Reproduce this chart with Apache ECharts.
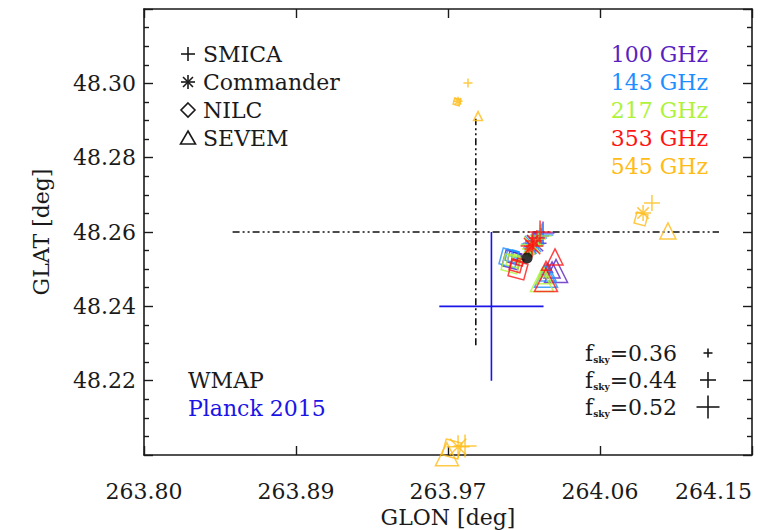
<!DOCTYPE html>
<html>
<head>
<meta charset="utf-8">
<script src="https://cdn.jsdelivr.net/npm/echarts@6/dist/echarts.min.js"></script>
<style>
  html, body { margin: 0; padding: 0; background: #ffffff; }
  #chart { width: 769px; height: 530px; }
</style>
</head>
<body>
<div id="chart"></div>
<script>
// ---- axis ticks ----
const glonTicks = [263.80, 263.8875, 263.975, 264.0625, 264.15];
const glonTickLabels = ['263.80', '263.89', '263.97', '264.06', '264.15'];

// ---- frequency channels and component-separation methods ----
const frequencies = ['100 GHz', '143 GHz', '217 GHz', '353 GHz', '545 GHz'];
const freqColors = ['#5a1fc0', '#1e8fff', '#aef23a', '#ff1414', '#ffbb16'];
const methods = ['SMICA', 'Commander', 'NILC', 'SEVEM'];
const fskyValues = [0.36, 0.44, 0.52];

// ---- fitted positions [GLON, GLAT] for fsky = 0.36, 0.44, 0.52 ----
const smica100 = [[264.0268, 48.2578], [264.0285, 48.2589], [264.0297, 48.2597]];
const smica143 = [[264.0257, 48.2573], [264.0274, 48.2584], [264.0291, 48.2592]];
const smica217 = [[264.0251, 48.2570], [264.0268, 48.2581], [264.0280, 48.2589]];
const smica353 = [[264.0239, 48.2565], [264.0262, 48.2584], [264.0280, 48.2600]];
const smica545 = [[263.9865, 48.3001], [264.0924, 48.2678], [263.9848, 48.2024]];

const commander100 = [[264.0222, 48.2552], [264.0234, 48.2562], [264.0251, 48.2570]];
const commander143 = [[264.0216, 48.2549], [264.0228, 48.2557], [264.0239, 48.2568]];
const commander217 = [[264.0211, 48.2546], [264.0222, 48.2554], [264.0234, 48.2565]];
const commander353 = [[264.0216, 48.2554], [264.0239, 48.2576], [264.0234, 48.2562]];
const commander545 = [[263.9808, 48.2952], [264.0873, 48.2651], [263.9808, 48.2022]];

const nilc100 = [[264.0141, 48.2535], [264.0130, 48.2530], [264.0118, 48.2525]];
const nilc143 = [[264.0136, 48.2541], [264.0118, 48.2535], [264.0101, 48.2530]];
const nilc217 = [[264.0141, 48.2530], [264.0124, 48.2522], [264.0113, 48.2514]];
const nilc353 = [[264.0165, 48.2519], [264.0141, 48.2509], [264.0153, 48.2498]];
const nilc545 = [[263.9802, 48.2950], [264.0861, 48.2635], [263.9773, 48.2016]];

const sevem100 = [[264.0326, 48.2503], [264.0349, 48.2498], [264.0372, 48.2495]];
const sevem143 = [[264.0308, 48.2498], [264.0326, 48.2490], [264.0314, 48.2482]];
const sevem217 = [[264.0297, 48.2492], [264.0303, 48.2482], [264.0291, 48.2471]];
const sevem353 = [[264.0314, 48.2509], [264.0366, 48.2533], [264.0314, 48.2471]];
const sevem545 = [[263.9923, 48.2912], [264.1016, 48.2603], [263.9744, 48.2002]];

// reference position of the cluster
const clusterPos = [264.0205, 48.2530];

// external catalogue positions: [GLON, GLAT, errGLON, errGLAT]
const wmapPos = [263.991, 48.260, 0.140, 0.0305];
const planckPos = [264.000, 48.240, 0.030, 0.020];

const methodData = {
  SMICA: [smica100, smica143, smica217, smica353, smica545],
  Commander: [commander100, commander143, commander217, commander353, commander545],
  NILC: [nilc100, nilc143, nilc217, nilc353, nilc545],
  SEVEM: [sevem100, sevem143, sevem217, sevem353, sevem545]
};

// ---- marker styling ----
const PLUS = 'path://M0,-10L0,10M-10,0L10,0';
const STAR = 'path://M0,-10L0,10M-10,0L10,0M-7.1,-7.1L7.1,7.1M-7.1,7.1L7.1,-7.1';
const methodSymbol = { SMICA: PLUS, Commander: STAR, NILC: 'diamond', SEVEM: 'triangle' };
const methodRotate = { SMICA: 0, Commander: 0, NILC: 30, SEVEM: 0 };
const fskySizes = [9, 16, 23];

const FONT = 'DejaVu Serif';
const INK = '#1a1a1a';

const series = [];

// error crosses for WMAP (dash-dot) and Planck 2015 (solid blue)
function errorCross(p, style) {
  series.push({
    type: 'line', data: [[p[0] - p[2], p[1]], [p[0] + p[2], p[1]]],
    symbol: 'none', lineStyle: style, silent: true, z: 1
  });
  series.push({
    type: 'line', data: [[p[0], p[1] - p[3]], [p[0], p[1] + p[3]]],
    symbol: 'none', lineStyle: style, silent: true, z: 1
  });
}
errorCross(wmapPos, { color: '#111', width: 1.6, type: [7, 3, 2, 3, 2, 3] });
errorCross(planckPos, { color: '#1a14e6', width: 1.6, type: 'solid' });

frequencies.forEach((f, fi) => {
  methods.forEach((m) => {
    series.push({
      name: m + ' ' + f,
      type: 'scatter',
      data: methodData[m][fi],
      symbol: methodSymbol[m],
      symbolRotate: methodRotate[m],
      symbolSize: (val, params) => fskySizes[params.dataIndex],
      itemStyle: { color: 'rgba(0,0,0,0)', borderColor: freqColors[fi], borderWidth: 1.5 },
      emphasis: { disabled: true },
      z: 3 + fi
    });
  });
});

series.push({
  type: 'scatter', data: [clusterPos], symbol: 'circle', symbolSize: 11,
  itemStyle: { color: '#000' }, emphasis: { disabled: true }, z: 10
});

// ---- legend graphics ----
function plusShape(cx, cy, s) {
  const h = s / 2;
  return [
    { type: 'line', shape: { x1: cx - h, y1: cy, x2: cx + h, y2: cy }, style: { stroke: INK, lineWidth: 1.6 } },
    { type: 'line', shape: { x1: cx, y1: cy - h, x2: cx, y2: cy + h }, style: { stroke: INK, lineWidth: 1.6 } }
  ];
}
function starShape(cx, cy, s) {
  const h = s / 2, d = h * 0.71;
  return plusShape(cx, cy, s).concat([
    { type: 'line', shape: { x1: cx - d, y1: cy - d, x2: cx + d, y2: cy + d }, style: { stroke: INK, lineWidth: 1.6 } },
    { type: 'line', shape: { x1: cx - d, y1: cy + d, x2: cx + d, y2: cy - d }, style: { stroke: INK, lineWidth: 1.6 } }
  ]);
}
const legendRows = [54, 82, 110, 138];
const symX = 188;
const graphics = [];
graphics.push(...plusShape(symX, legendRows[0], 14));
graphics.push(...starShape(symX, legendRows[1], 14));
graphics.push({ type: 'polygon', shape: { points: [[symX, legendRows[2] - 7], [symX + 7, legendRows[2]], [symX, legendRows[2] + 7], [symX - 7, legendRows[2]]] }, style: { fill: 'none', stroke: INK, lineWidth: 1.6 } });
graphics.push({ type: 'polygon', shape: { points: [[symX, legendRows[3] - 7], [symX + 7.5, legendRows[3] + 6], [symX - 7.5, legendRows[3] + 6]] }, style: { fill: 'none', stroke: INK, lineWidth: 1.6 } });
methods.forEach((m, i) => {
  graphics.push({ type: 'text', x: 203, y: legendRows[i], style: { text: m, font: '22px "' + FONT + '"', fill: INK, verticalAlign: 'middle', align: 'left' } });
});
frequencies.forEach((f, i) => {
  graphics.push({ type: 'text', x: 708, y: 54 + 28 * i, style: { text: f, font: '22px "' + FONT + '"', fill: freqColors[i], verticalAlign: 'middle', align: 'right' } });
});

// fsky size key
const fskyRows = [353, 380, 407];
fskyValues.forEach((v, i) => {
  graphics.push({
    type: 'text', x: 585, y: fskyRows[i],
    style: {
      text: '{f|f}{s|sky}{n|=' + v.toFixed(2) + '}',
      verticalAlign: 'middle', align: 'left',
      rich: {
        f: { fontFamily: FONT, fontSize: 22, fill: INK, color: INK },
        s: { fontFamily: FONT, fontSize: 9, fontWeight: 'bold', fill: INK, color: INK, verticalAlign: 'bottom', padding: [12, 0, 0, 0] },
        n: { fontFamily: FONT, fontSize: 22, fill: INK, color: INK }
      }
    }
  });
  graphics.push(...plusShape(708, fskyRows[i], fskySizes[i]));
});

graphics.push({ type: 'text', x: 188, y: 380, style: { text: 'WMAP', font: '22px "' + FONT + '"', fill: INK, verticalAlign: 'middle' } });
graphics.push({ type: 'text', x: 188, y: 408, style: { text: 'Planck 2015', font: '22px "' + FONT + '"', fill: '#1a14e6', verticalAlign: 'middle' } });

const axisLine = { show: true, onZero: false, lineStyle: { color: INK, width: 1.6 } };
const tickStyle = { color: INK, width: 1.4 };

const option = {
  animation: false,
  backgroundColor: '#ffffff',
  grid: { left: 144, right: 17, top: 9, bottom: 75, outerBoundsMode: 'none' },
  xAxis: [
    {
      type: 'value', min: 263.80, max: 264.15, position: 'bottom',
      axisLine: axisLine,
      axisTick: { inside: true, length: 9, lineStyle: tickStyle, customValues: glonTicks },
      axisLabel: {
        customValues: glonTicks, margin: 25, fontFamily: FONT, fontSize: 22, color: INK,
        alignMaxLabel: 'right',
        formatter: (v) => {
          const i = glonTicks.findIndex((t) => Math.abs(t - v) < 1e-6);
          return i >= 0 ? glonTickLabels[i] : '';
        }
      },
      splitLine: { show: false },
      name: 'GLON [deg]', nameLocation: 'middle', nameGap: 47,
      nameTextStyle: { fontFamily: FONT, fontSize: 22, color: INK }
    },
    {
      type: 'value', min: 263.80, max: 264.15, position: 'top',
      axisLine: axisLine,
      axisTick: { inside: true, length: 9, lineStyle: tickStyle, customValues: glonTicks },
      axisLabel: { show: false },
      splitLine: { show: false }
    }
  ],
  yAxis: [
    {
      type: 'value', min: 48.20, max: 48.32, interval: 0.02, position: 'left',
      axisLine: axisLine,
      axisTick: { inside: true, length: 9, lineStyle: tickStyle },
      minorTick: { show: true, splitNumber: 4, length: 5, lineStyle: tickStyle },
      axisLabel: {
        showMinLabel: false, showMaxLabel: false, margin: 8,
        fontFamily: FONT, fontSize: 22, color: INK,
        formatter: (v) => v.toFixed(2)
      },
      splitLine: { show: false }, minorSplitLine: { show: false },
      name: 'GLAT [deg]', nameLocation: 'middle', nameGap: 92, nameRotate: 90,
      nameTextStyle: { fontFamily: FONT, fontSize: 22, color: INK }
    },
    {
      type: 'value', min: 48.20, max: 48.32, interval: 0.02, position: 'right',
      axisLine: axisLine,
      axisTick: { inside: true, length: 9, lineStyle: tickStyle },
      minorTick: { show: true, splitNumber: 4, length: 5, lineStyle: tickStyle },
      axisLabel: { show: false },
      splitLine: { show: false }, minorSplitLine: { show: false }
    }
  ],
  graphic: graphics,
  series: series
};

const chart = echarts.init(document.getElementById('chart'), null, { renderer: 'svg' });
chart.setOption(option);
</script>
</body>
</html>
